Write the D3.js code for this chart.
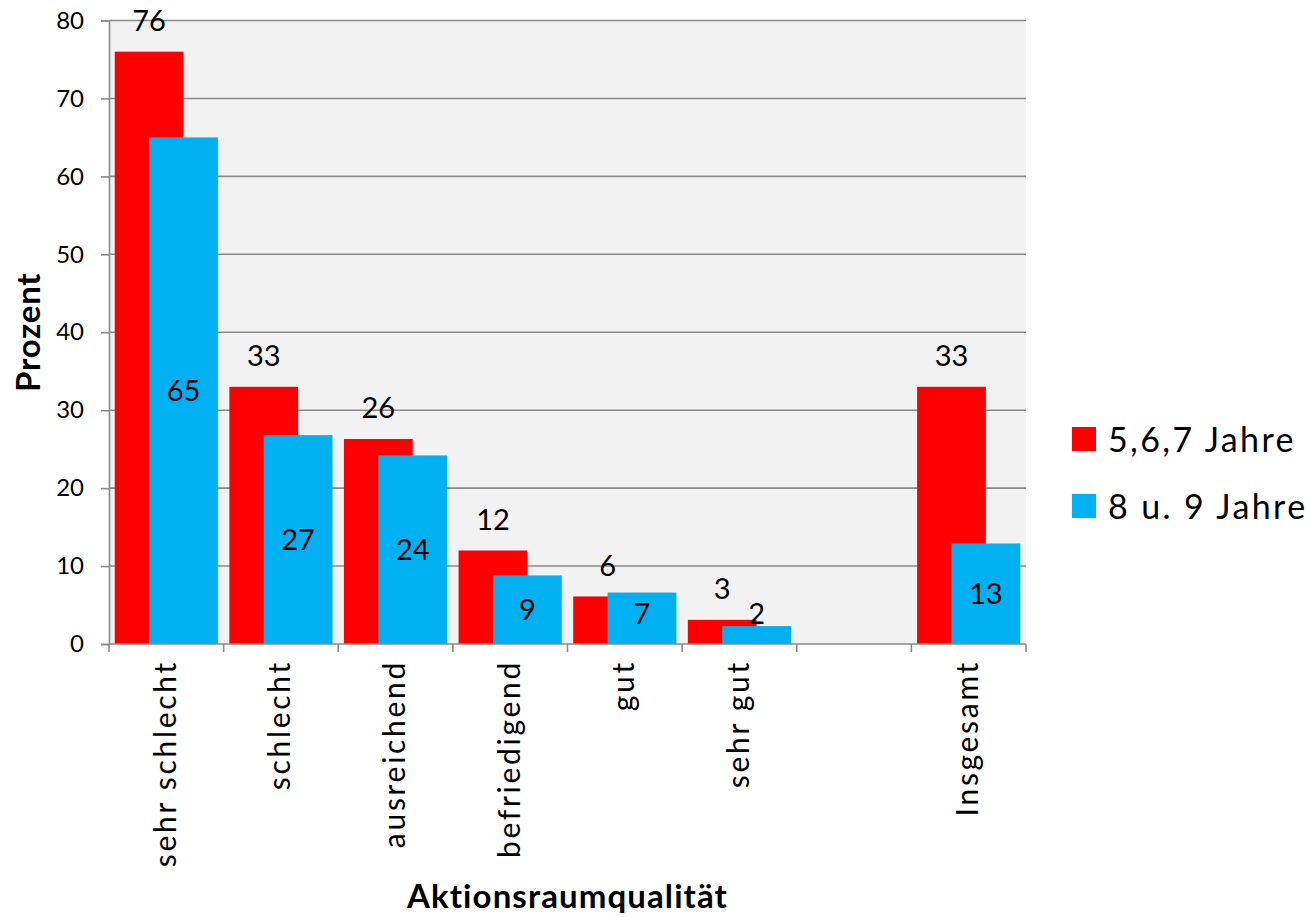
<!DOCTYPE html>
<html>
<head>
<meta charset="utf-8">
<script src="https://cdn.jsdelivr.net/npm/d3@7"></script>
<style>
  html, body { margin: 0; padding: 0; background: #fff; }
  svg { display: block; font-family: Lato, "Open Sans", sans-serif; }
</style>
</head>
<body>
<svg id="chart" width="1310" height="917"></svg>
<script>
// Aktionsraumqualität nach Altersgruppe (Prozent)
const categories = ["sehr schlecht", "schlecht", "ausreichend", "befriedigend", "gut", "sehr gut", "", "Insgesamt"];
const seriesNames = ["5,6,7 Jahre", "8 u. 9 Jahre"];
const values567 = [76, 33, 26.3, 12, 6.1, 3.1, null, 33];
const values89  = [65, 26.8, 24.2, 8.8, 6.6, 2.3, null, 12.9];
const yTicks = [0, 10, 20, 30, 40, 50, 60, 70, 80];
const colors = ["#ff0000", "#00b0f0"];

const svg = d3.select("#chart");
const plot = { left: 109, right: 1026, top: 20.5, bottom: 644 };
const gridColor = "#898989";

const x = d3.scaleBand()
  .domain(d3.range(categories.length))
  .range([plot.left, plot.right])
  .paddingInner(0)
  .paddingOuter(0);

const y = d3.scaleLinear()
  .domain([0, 80])
  .range([plot.bottom, plot.top]);

// bar geometry: two series overlapping by half a bar width
const gap = 0.05 * x.bandwidth();
const barW = (x.bandwidth() - 2 * gap) / 1.5;
const offsets = [gap, gap + barW / 2];

// plot background
svg.append("rect")
  .attr("x", plot.left).attr("y", plot.top)
  .attr("width", plot.right - plot.left).attr("height", plot.bottom - plot.top)
  .attr("fill", "#f2f2f2");

// horizontal gridlines
svg.append("g")
  .selectAll("line")
  .data(yTicks.filter(d => d > 0))
  .join("line")
  .attr("x1", plot.left).attr("x2", plot.right)
  .attr("y1", d => y(d)).attr("y2", d => y(d))
  .attr("stroke", gridColor).attr("stroke-width", 1.6);

// bars
const series = [values567, values89];
series.forEach((vals, si) => {
  svg.append("g")
    .selectAll("rect")
    .data(vals.map((v, i) => ({ v, i })).filter(d => d.v !== null))
    .join("rect")
    .attr("x", d => x(d.i) + offsets[si])
    .attr("y", d => y(d.v))
    .attr("width", barW)
    .attr("height", d => y(0) - y(d.v))
    .attr("fill", colors[si]);
});

// y axis
const yAxis = d3.axisLeft(y).tickValues(yTicks).tickSize(8).tickPadding(17).tickFormat(d3.format("d"));
const gy = svg.append("g").attr("transform", `translate(${plot.left},0)`).call(yAxis);
gy.select(".domain").attr("stroke", gridColor).attr("stroke-width", 1.6);
gy.selectAll(".tick line").attr("stroke", gridColor).attr("stroke-width", 1.6);
gy.selectAll(".tick text")
  .attr("font-size", 24).attr("fill", "#000")
  .attr("font-family", "Lato, sans-serif");

// x axis with ticks at band boundaries
const gx = svg.append("g");
gx.append("line")
  .attr("x1", plot.left).attr("x2", plot.right)
  .attr("y1", plot.bottom).attr("y2", plot.bottom)
  .attr("stroke", gridColor).attr("stroke-width", 1.6);
gx.selectAll("line.tk")
  .data(d3.range(categories.length + 1))
  .join("line")
  .attr("class", "tk")
  .attr("x1", i => plot.left + i * x.bandwidth())
  .attr("x2", i => plot.left + i * x.bandwidth())
  .attr("y1", plot.bottom).attr("y2", plot.bottom + 8)
  .attr("stroke", gridColor).attr("stroke-width", 1.6);

// category labels, rotated
gx.selectAll("text")
  .data(categories)
  .join("text")
  .attr("transform", (d, i) => `translate(${x(i) + x.bandwidth() / 2 - 1},${plot.bottom + 16}) rotate(-90)`)
  .attr("text-anchor", "end")
  .attr("dy", "0.35em")
  .attr("font-size", 30)
  .attr("letter-spacing", "2.7px")
  .attr("fill", "#000")
  .text(d => d);

// value labels
const fmt = d3.format(".0f");
svg.append("g")
  .selectAll("text")
  .data(values567.map((v, i) => ({ v, i })).filter(d => d.v !== null))
  .join("text")
  .attr("x", d => x(d.i) + offsets[0] + barW / 2)
  .attr("y", d => y(d.v) - 31)
  .attr("text-anchor", "middle")
  .attr("dy", "0.35em")
  .attr("font-size", 29)
  .text(d => fmt(d.v));

svg.append("g")
  .selectAll("text")
  .data(values89.map((v, i) => ({ v, i })).filter(d => d.v !== null))
  .join("text")
  .attr("x", d => x(d.i) + offsets[1] + barW / 2)
  .attr("y", d => Math.min((y(d.v) + y(0)) / 2, y(0) - 30))
  .attr("text-anchor", "middle")
  .attr("dy", "0.35em")
  .attr("font-size", 29)
  .text(d => fmt(d.v));

// axis titles
svg.append("text")
  .attr("transform", `translate(40,${(plot.top + plot.bottom) / 2}) rotate(-90)`)
  .attr("text-anchor", "middle")
  .attr("font-size", 33)
  .attr("font-weight", "bold")
  .attr("letter-spacing", "0.8px")
  .text("Prozent");

svg.append("text")
  .attr("x", (plot.left + plot.right) / 2)
  .attr("y", 908)
  .attr("text-anchor", "middle")
  .attr("font-size", 33)
  .attr("font-weight", "bold")
  .attr("letter-spacing", "1.1px")
  .text("Aktionsraumqualität");

// legend
const legend = svg.append("g").attr("transform", "translate(1072,427)");
seriesNames.forEach((name, i) => {
  const g = legend.append("g").attr("transform", `translate(0,${i * 67})`);
  g.append("rect").attr("width", 24).attr("height", 24).attr("fill", colors[i]);
  g.append("text")
    .attr("x", 36).attr("y", 25)
    .attr("font-size", 34)
    .attr("letter-spacing", "2.4px")
    .text(name);
});
</script>
</body>
</html>
